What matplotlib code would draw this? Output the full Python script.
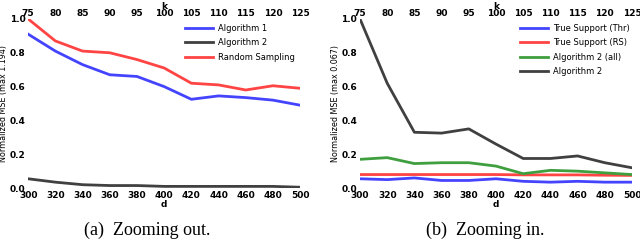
import matplotlib
matplotlib.use("Agg")
import matplotlib.pyplot as plt

d = [300, 320, 340, 360, 380, 400, 420, 440, 460, 480, 500]
k_labels = ["75", "80", "85", "90", "95", "100", "105", "110", "115", "120", "125"]

# Panel (a)
alg1_a = [0.91, 0.81, 0.73, 0.67, 0.66, 0.60, 0.525, 0.545, 0.535, 0.52, 0.49]
alg2_a = [0.055, 0.035, 0.02, 0.015, 0.015, 0.01, 0.01, 0.01, 0.01, 0.01, 0.005]
rand_a = [1.0, 0.87, 0.81, 0.80, 0.76, 0.71, 0.62, 0.61, 0.58, 0.605, 0.59]

# Panel (b)
thr_b = [0.055, 0.05, 0.06, 0.045, 0.045, 0.055, 0.04, 0.035, 0.04, 0.035, 0.035]
rs_b = [0.08, 0.08, 0.08, 0.08, 0.08, 0.08, 0.078, 0.078, 0.078, 0.076, 0.075]
alg2all_b = [0.17, 0.18, 0.145, 0.15, 0.15, 0.13, 0.085, 0.105, 0.10, 0.09, 0.08]
alg2_b = [1.0, 0.62, 0.33, 0.325, 0.35, 0.26, 0.175, 0.175, 0.19, 0.15, 0.12]

BLUE = "#4444ff"
RED = "#ff4444"
GREEN = "#3f9f3f"
DARK = "#404040"

fig = plt.figure(figsize=(6.4, 2.43), dpi=100)

def style(ax, ylabel):
    for s in ax.spines.values():
        s.set_visible(False)
    ax.set_xlim(300, 500)
    ax.set_ylim(0, 1.0)
    ax.set_xticks(d)
    ax.set_xticklabels([str(v) for v in d], fontsize=6.5, fontweight="bold")
    ax.set_yticks([0, 0.2, 0.4, 0.6, 0.8, 1.0])
    ax.set_yticklabels(["0.0", "0.2", "0.4", "0.6", "0.8", "1.0"], fontsize=6.5, fontweight="bold")
    ax.tick_params(length=0, pad=2)
    ax.set_xlabel("d", fontsize=6.5, fontweight="bold", labelpad=0)
    ax.set_ylabel(ylabel, fontsize=5.8, labelpad=1)
    top = ax.twiny()
    for s in top.spines.values():
        s.set_visible(False)
    top.set_xlim(300, 500)
    top.set_xticks(d)
    top.set_xticklabels(k_labels, fontsize=6.5, fontweight="bold")
    top.tick_params(length=0, pad=1)
    top.set_xlabel("k", fontsize=6.5, fontweight="bold", labelpad=0)
    return top

ax1 = fig.add_axes([0.044, 0.226, 0.425, 0.696])
ax1.plot(d, alg1_a, color=BLUE, lw=2, label="Algorithm 1")
ax1.plot(d, alg2_a, color=DARK, lw=2, label="Algorithm 2")
ax1.plot(d, rand_a, color=RED, lw=2, label="Random Sampling")
style(ax1, "Normalized MSE (max 1.194)")
ax1.legend(loc="upper right", bbox_to_anchor=(1.0, 1.0), frameon=False, fontsize=6,
           handlelength=3.4, labelspacing=0.65, handletextpad=0.6, borderaxespad=0.2)

ax2 = fig.add_axes([0.5625, 0.226, 0.425, 0.696])
ax2.plot(d, thr_b, color=BLUE, lw=2, label="True Support (Thr)")
ax2.plot(d, rs_b, color=RED, lw=2, label="True Support (RS)")
ax2.plot(d, alg2all_b, color=GREEN, lw=2, label="Algorithm 2 (all)")
ax2.plot(d, alg2_b, color=DARK, lw=2, label="Algorithm 2")
style(ax2, "Normalized MSE (max 0.067)")
ax2.legend(loc="upper right", bbox_to_anchor=(1.01, 1.0), frameon=False, fontsize=6,
           handlelength=3.4, labelspacing=0.65, handletextpad=0.6, borderaxespad=0.2)

fig.text(0.23, 0.035, "(a)  Zooming out.", ha="center", fontsize=13, family="Liberation Serif")
fig.text(0.758, 0.035, "(b)  Zooming in.", ha="center", fontsize=13, family="Liberation Serif")

fig.savefig("out.png", dpi=100)
